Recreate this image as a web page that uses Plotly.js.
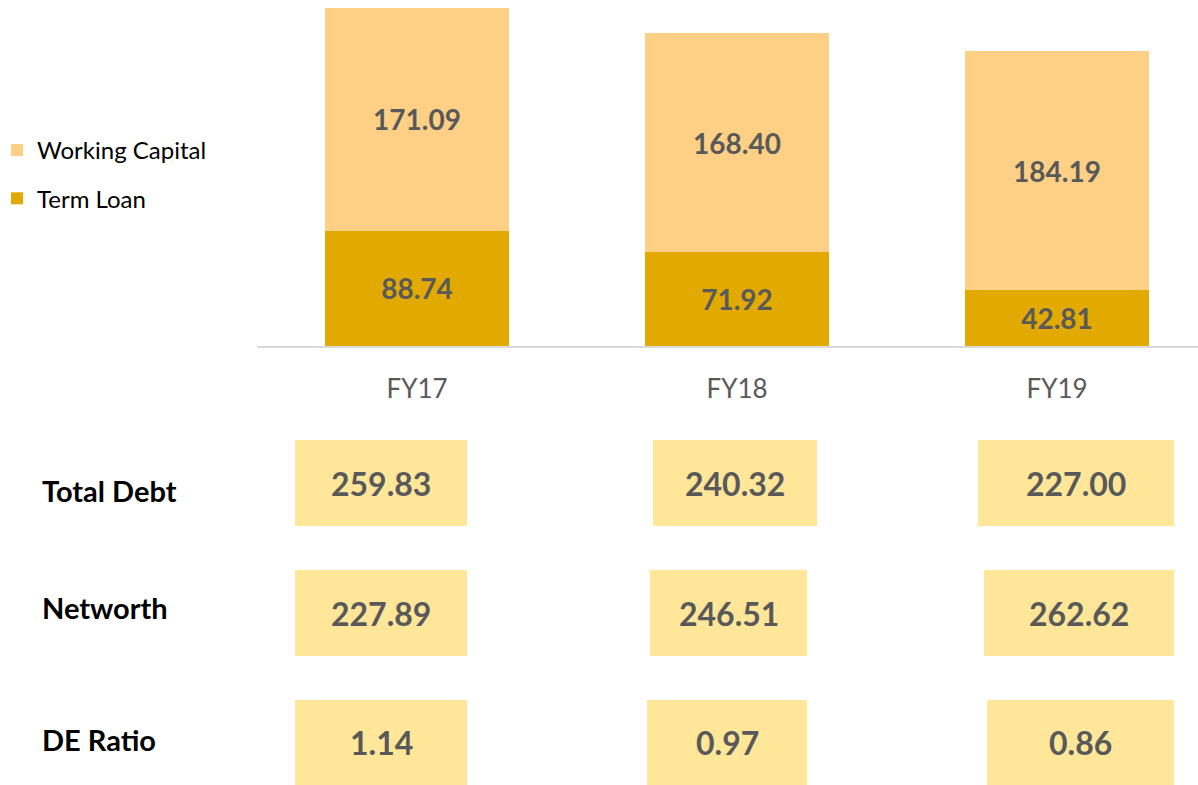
<!DOCTYPE html>
<html>
<head>
<meta charset="utf-8">
<script src="https://cdn.plot.ly/plotly-3.0.1.min.js"></script>
<style>html,body{margin:0;padding:0;background:#fff;}#chart{width:1198px;height:785px;}</style>
</head>
<body>
<div id="chart"></div>
<script>
// ---- data ----
const years = ['FY17', 'FY18', 'FY19'];
const termLoan = [88.74, 71.92, 42.81];
const workingCapital = [171.09, 168.40, 184.19];
const rowLabels = ['Total Debt', 'Networth', 'DE Ratio'];
const totalDebt = [259.83, 240.32, 227.00];
const networth = [227.89, 246.51, 262.62];
const deRatio = [1.14, 0.97, 0.86];

// ---- style / layout constants ----
const FONT = 'Lato, "Open Sans", sans-serif';
const W = 1198, H = 785;
const ML = 257, PLOT_W = W - ML, PLOT_H = 346;
const pyPaper = p => (PLOT_H - p) / PLOT_H;
const pxPaper = p => (p - ML) / PLOT_W;

const rows = [totalDebt, networth, deRatio];
const rowBox = [[440, 526], [570, 656], [700, 786]];
const rowLabelY = [490, 607, 739];
const boxOffsets = [
  [[-122, 50], [-84, 80], [-79, 117]],
  [[-122, 50], [-87, 70], [-73, 117]],
  [[-122, 50], [-90, 70], [-70, 117]]
];

const traces = [
  {
    type: 'bar', name: 'Term Loan', x: years, y: termLoan,
    marker: {color: '#E2AA00'}, width: 0.572,
    text: termLoan.map(v => '<b>' + v.toFixed(2) + '</b>'),
    textposition: 'inside', insidetextanchor: 'middle', textangle: 0,
    constraintext: 'none', textfont: {family: FONT, size: 28, color: '#595959'},
    hoverinfo: 'none', legendgroup: 'tl', legendrank: 2
  },
  {
    type: 'bar', name: 'Working Capital', x: years, y: workingCapital,
    marker: {color: '#FED086'}, width: 0.572,
    text: workingCapital.map(v => '<b>' + v.toFixed(2) + '</b>'),
    textposition: 'inside', insidetextanchor: 'middle', textangle: 0,
    constraintext: 'none', textfont: {family: FONT, size: 28, color: '#595959'},
    hoverinfo: 'none', legendgroup: 'wc', legendrank: 1
  }
];

const shapes = [];
const annotations = [];
rows.forEach((vals, r) => {
  annotations.push({
    xref: 'paper', yref: 'paper', x: pxPaper(40), y: pyPaper(rowLabelY[r]),
    xanchor: 'left', yanchor: 'middle', showarrow: false,
    text: '<b>' + rowLabels[r] + '</b>',
    font: {family: FONT, size: 29, color: '#000000'}
  });
  vals.forEach((v, i) => {
    const [o0, o1] = boxOffsets[r][i];
    const [t, b] = rowBox[r];
    shapes.push({
      type: 'rect', xref: 'x', xsizemode: 'pixel', xanchor: i, x0: o0, x1: o1,
      yref: 'paper', y0: pyPaper(b), y1: pyPaper(t),
      fillcolor: '#FFE699', line: {width: 0}, layer: 'below'
    });
    annotations.push({
      xref: 'x', x: i, xshift: (o0 + o1) / 2, yref: 'paper', y: pyPaper((t + b) / 2),
      xanchor: 'center', yanchor: 'middle', showarrow: false,
      text: '<b>' + v.toFixed(2) + '</b>',
      font: {family: FONT, size: 32, color: '#595959'}
    });
  });
});

const layout = {
  width: W, height: H,
  margin: {l: ML, r: 0, t: 0, b: H - PLOT_H, pad: 0, autoexpand: false},
  paper_bgcolor: '#ffffff', plot_bgcolor: '#ffffff',
  barmode: 'stack', showlegend: true,
  font: {family: FONT},
  xaxis: {
    type: 'category', range: [-0.5, -0.5 + PLOT_W / 320],
    showline: true, linecolor: '#D9D9D9', linewidth: 2,
    showgrid: false, zeroline: false, ticks: '', ticklabelstandoff: 19,
    tickfont: {family: FONT, size: 26, color: '#595959'}, fixedrange: true
  },
  yaxis: {
    range: [0, 266], visible: false, showgrid: false, zeroline: false, fixedrange: true
  },
  legend: {
    x: pxPaper(-3), y: pyPaper(128), xanchor: 'left', yanchor: 'top',
    traceorder: 'grouped', tracegroupgap: 14,
    font: {family: FONT, size: 24, color: '#000000'},
    bgcolor: 'rgba(0,0,0,0)', itemwidth: 30
  },
  shapes: shapes,
  annotations: annotations
};

Plotly.newPlot('chart', traces, layout, {displayModeBar: false, staticPlot: true});
</script>
</body>
</html>
